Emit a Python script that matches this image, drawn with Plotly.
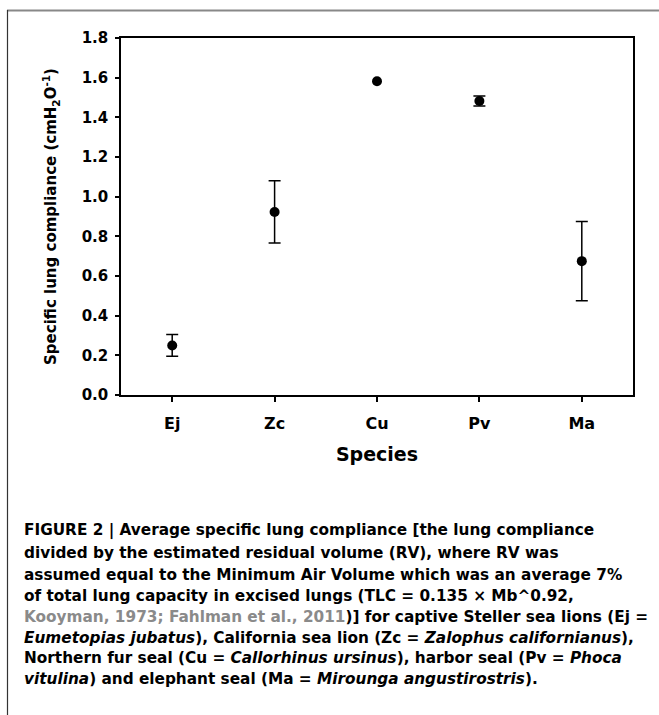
import plotly.graph_objects as go

# ---- data ----
species = ["Ej", "Zc", "Cu", "Pv", "Ma"]
compliance = [0.25, 0.923, 1.582, 1.482, 0.675]
compliance_err = [0.055, 0.157, None, 0.025, 0.200]   # Cu: no visible error bar
y_ticks = [0.0, 0.2, 0.4, 0.6, 0.8, 1.0, 1.2, 1.4, 1.6, 1.8]

caption_lines = [
    "FIGURE 2 | Average specific lung compliance [the lung compliance",
    "divided by the estimated residual volume (RV), where RV was",
    "assumed equal to the Minimum Air Volume which was an average 7%",
    "of total lung capacity in excised lungs (TLC = 0.135 × Mb^0.92,",
    "<span style='color:#8a8a8a'>Kooyman, 1973; Fahlman et al., 2011</span>)] for captive Steller sea lions (Ej =",
    "<i>Eumetopias jubatus</i>), California sea lion (Zc = <i>Zalophus californianus</i>),",
    "Northern fur seal (Cu = <i>Callorhinus ursinus</i>), harbor seal (Pv = <i>Phoca</i>",
    "<i>vitulina</i>) and elephant seal (Ma = <i>Mirounga angustirostris</i>).",
]
caption_y_px = [530, 552.5, 574.5, 596, 617, 637.5, 658, 678.5]

# ---- layout geometry (pixels) ----
W, H = 659, 715
L, R, T, B = 121, 633, 38, 395


def px_x(x):
    return (x - L) / (R - L)


def px_y(y):
    return (B - y) / (B - T)


FONT = "DejaVu Sans, Liberation Sans, Arial, sans-serif"

fig = go.Figure()
with_err = [i for i, e in enumerate(compliance_err) if e is not None]
no_err = [i for i, e in enumerate(compliance_err) if e is None]
fig.add_trace(go.Scatter(
    x=[species[i] for i in with_err], y=[compliance[i] for i in with_err], mode="markers",
    marker=dict(color="black", size=10, symbol="circle"),
    error_y=dict(type="data", array=[compliance_err[i] for i in with_err], visible=True,
                 color="black", thickness=1.5, width=6),
    showlegend=False,
))
fig.add_trace(go.Scatter(
    x=[species[i] for i in no_err], y=[compliance[i] for i in no_err], mode="markers",
    marker=dict(color="black", size=10, symbol="circle"),
    showlegend=False,
))

axis_common = dict(showline=True, linecolor="black", linewidth=1.5, mirror=True,
                   ticks="outside", tickcolor="black", tickwidth=1.5,
                   showgrid=False, zeroline=False)

fig.update_xaxes(
    **axis_common, ticklen=5, range=[-0.5, 4.5],
    categoryorder="array", categoryarray=species,
    tickfont=dict(family=FONT, size=16, color="black", weight="bold"),
    ticklabelstandoff=8,
    title=dict(text="Species", font=dict(family=FONT, size=19, color="black", weight="bold"),
               standoff=16),
)
fig.update_yaxes(
    **axis_common, ticklen=4, range=[0, 1.8], tickvals=y_ticks, tickformat=".1f",
    tickfont=dict(family=FONT, size=15, color="black", weight="bold"),
    ticklabelstandoff=4,
    title=dict(text="Specific lung compliance (cmH<sub>2</sub>O<sup>-1</sup>)",
               font=dict(family=FONT, size=15, color="black", weight="bold"),
               standoff=21),
)

for txt, yp in zip(caption_lines, caption_y_px):
    fig.add_annotation(
        text=txt, xref="paper", yref="paper", x=px_x(22), y=px_y(yp),
        xanchor="left", yanchor="middle", showarrow=False, align="left",
        font=dict(family=FONT, size=15.3, color="black", weight="bold"),
    )

# page frame lines (top and left)
fig.add_shape(type="line", xref="paper", yref="paper",
              x0=px_x(7), x1=px_x(W + 5), y0=px_y(10.5), y1=px_y(10.5),
              line=dict(color="#888888", width=2))
fig.add_shape(type="line", xref="paper", yref="paper",
              x0=px_x(7.5), x1=px_x(7.5), y0=px_y(10), y1=px_y(H + 5),
              line=dict(color="#333333", width=1.2))

fig.update_layout(
    width=W, height=H,
    margin=dict(l=L, r=W - R, t=T, b=H - B, autoexpand=False),
    paper_bgcolor="white", plot_bgcolor="white",
)

fig.write_html("out.html", config={"displayModeBar": False},
               post_script="document.body.style.margin='0px';document.body.style.overflow='hidden';")
